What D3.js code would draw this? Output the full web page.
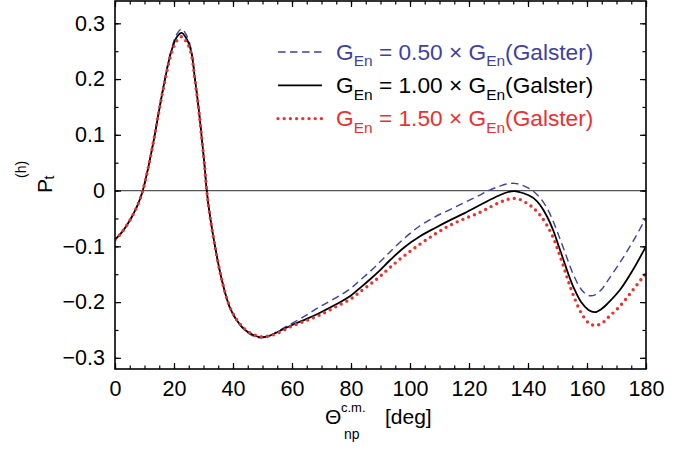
<!DOCTYPE html>
<html>
<head>
<meta charset="utf-8">
<script src="https://cdn.jsdelivr.net/npm/d3@7"></script>
<style>
  html, body { margin: 0; padding: 0; background: #fff; }
  svg { display: block; }
  text { font-family: "Liberation Sans", Arial, Helvetica, sans-serif; }
</style>
</head>
<body>
<svg id="chart" width="695" height="455"></svg>
<script>
// ---- data ----
const theta = [0, 2.3, 5.4, 7.5, 9.3, 11.3, 13.3, 15, 16.7, 19, 21, 22.6, 24.2, 25.8, 27.1, 28.3, 29.4, 30.3, 31.1,
  32.2, 33.9, 36.2, 38.8, 41.2, 44.1, 46.9, 49.2, 52, 55,
  60, 65, 69.5, 75, 80, 83, 86.5, 89.8, 93.2, 98, 103.4, 108.5, 113.6, 118.7, 123.7, 127,
  130.5, 133, 135.3, 137.3, 140, 142, 144.1, 146.5, 148.6, 150.3, 152, 153.7, 155.4, 158, 160.5, 162.7, 165, 167.1, 171.2, 175.6, 180];

const gen050 = [-0.088, -0.075, -0.050, -0.028, -0.002, 0.042, 0.095, 0.145, 0.195, 0.251, 0.281, 0.290, 0.279, 0.254, 0.202, 0.151, 0.096, 0.048, 0,
  -0.046, -0.100, -0.160, -0.208, -0.233, -0.251, -0.261, -0.264, -0.261, -0.253,
  -0.238, -0.223, -0.208, -0.192, -0.175, -0.161, -0.145, -0.128, -0.110, -0.086, -0.063, -0.047, -0.034, -0.021, -0.008, 0.001,
  0.008, 0.012, 0.013, 0.011, 0.005, -0.002, -0.013, -0.032, -0.056, -0.079, -0.103, -0.128, -0.151, -0.177, -0.188, -0.187, -0.177, -0.161, -0.129, -0.091, -0.049];

const gen100 = [-0.088, -0.075, -0.050, -0.028, -0.002, 0.042, 0.095, 0.145, 0.193, 0.248, 0.276, 0.283, 0.273, 0.25, 0.2, 0.15, 0.095, 0.048, 0,
  -0.046, -0.100, -0.160, -0.208, -0.232, -0.250, -0.259, -0.263, -0.261, -0.254,
  -0.241, -0.230, -0.219, -0.204, -0.188, -0.175, -0.159, -0.143, -0.125, -0.102, -0.082, -0.067, -0.053, -0.040, -0.026, -0.017,
  -0.008, -0.003, -0.001, -0.003, -0.008, -0.014, -0.026, -0.047, -0.072, -0.098, -0.124, -0.150, -0.173, -0.200, -0.214, -0.218, -0.212, -0.202, -0.178, -0.142, -0.100];

const gen150 = [-0.088, -0.075, -0.050, -0.028, -0.002, 0.042, 0.095, 0.145, 0.191, 0.244, 0.269, 0.276, 0.267, 0.246, 0.198, 0.149, 0.094, 0.048, 0,
  -0.046, -0.100, -0.160, -0.207, -0.231, -0.249, -0.258, -0.262, -0.261, -0.256,
  -0.243, -0.233, -0.223, -0.208, -0.194, -0.182, -0.168, -0.154, -0.138, -0.117, -0.096, -0.078, -0.062, -0.050, -0.039, -0.030,
  -0.021, -0.016, -0.014, -0.016, -0.024, -0.032, -0.044, -0.063, -0.085, -0.109, -0.135, -0.163, -0.188, -0.219, -0.237, -0.242, -0.238, -0.228, -0.207, -0.178, -0.148];

const factors = ["0.50", "1.00", "1.50"];
const xTicks = [0, 20, 40, 60, 80, 100, 120, 140, 160, 180];
const yTicks = [-0.3, -0.2, -0.1, 0, 0.1, 0.2, 0.3];
const xDomain = [0, 180];
const yDomain = [-0.32, 0.34];

// ---- layout ----
const svg = d3.select("#chart");
const L = 115, R = 646, T = 1, B = 369;
const x = d3.scaleLinear().domain(xDomain).range([L, R]);
const y = d3.scaleLinear().domain(yDomain).range([B, T]);

const styles = [
  { values: gen050, color: "#3f3fa3", width: 1.4, dash: "7.5,4.5", cap: "butt" },
  { values: gen100, color: "#000000", width: 1.8, dash: null, cap: "butt" },
  { values: gen150, color: "#ee2f2f", width: 3.4, dash: "0,6.2", cap: "round" }
];

// zero line
svg.append("line")
  .attr("x1", x(0)).attr("x2", x(180))
  .attr("y1", y(0)).attr("y2", y(0))
  .attr("stroke", "#555").attr("stroke-width", 1.3);

// curves
const line = d3.line()
  .x((d, i) => x(theta[i]))
  .y(d => y(d))
  .curve(d3.curveCatmullRom.alpha(0.5));

const plot = svg.append("g");
plot.append("defs").append("clipPath").attr("id", "clip")
  .append("rect").attr("x", L).attr("y", T).attr("width", R - L).attr("height", B - T);

styles.forEach(s => {
  plot.append("path")
    .attr("d", line(s.values))
    .attr("fill", "none")
    .attr("stroke", s.color)
    .attr("stroke-width", s.width)
    .attr("stroke-dasharray", s.dash)
    .attr("stroke-linecap", s.cap)
    .attr("stroke-linejoin", "round")
    .attr("clip-path", "url(#clip)");
});

// axes (ticks inward)
const xMinor = d3.range(0, 181, 5);
const yMinor = d3.range(-0.3, 0.3001, 0.05);

const axB = d3.axisBottom(x).tickValues(xTicks).tickSize(-6).tickPadding(12).tickFormat(d3.format("d"));
const axT = d3.axisTop(x).tickValues(xTicks).tickSize(-6).tickFormat("");
const axL = d3.axisLeft(y).tickValues(yTicks).tickSize(-6).tickPadding(10)
  .tickFormat(d => d === 0 ? "0" : d3.format(".1f")(d));
const axR = d3.axisRight(y).tickValues(yTicks).tickSize(-6).tickFormat("");

const axBm = d3.axisBottom(x).tickValues(xMinor).tickSize(-3.5).tickFormat("");
const axTm = d3.axisTop(x).tickValues(xMinor).tickSize(-3.5).tickFormat("");
const axLm = d3.axisLeft(y).tickValues(yMinor).tickSize(-3.5).tickFormat("");
const axRm = d3.axisRight(y).tickValues(yMinor).tickSize(-3.5).tickFormat("");

function styleAxis(g) {
  g.select(".domain").remove();
  g.selectAll(".tick line").attr("stroke", "#000").attr("stroke-width", 1.2);
  g.selectAll(".tick text").attr("fill", "#000")
    .style("font-family", "'Liberation Sans', Arial, sans-serif")
    .style("font-size", "21.5px");
}

svg.append("g").attr("transform", `translate(0,${B})`).call(axBm).call(styleAxis);
svg.append("g").attr("transform", `translate(0,${T})`).call(axTm).call(styleAxis);
svg.append("g").attr("transform", `translate(${L},0)`).call(axLm).call(styleAxis);
svg.append("g").attr("transform", `translate(${R},0)`).call(axRm).call(styleAxis);
svg.append("g").attr("transform", `translate(0,${B})`).call(axB).call(styleAxis);
svg.append("g").attr("transform", `translate(0,${T})`).call(axT).call(styleAxis);
svg.append("g").attr("transform", `translate(${L},0)`).call(axL).call(styleAxis);
svg.append("g").attr("transform", `translate(${R},0)`).call(axR).call(styleAxis);

// frame
svg.append("rect")
  .attr("x", L).attr("y", T).attr("width", R - L).attr("height", B - T)
  .attr("fill", "none").attr("stroke", "#000").attr("stroke-width", 1.6);

// legend
const legX1 = 278, legX2 = 322, legTx = 336;
const legY = [52, 85.3, 118.6];
styles.forEach((s, i) => {
  svg.append("line")
    .attr("x1", legX1).attr("x2", legX2)
    .attr("y1", legY[i]).attr("y2", legY[i])
    .attr("stroke", s.color)
    .attr("stroke-width", s.width)
    .attr("stroke-dasharray", s.dash)
    .attr("stroke-linecap", s.cap);
  const t = svg.append("text")
    .attr("x", legTx).attr("y", legY[i] + 7.8)
    .attr("fill", s.color)
    .style("font-size", "22.7px");
  t.append("tspan").text("G");
  t.append("tspan").attr("dy", 6.5).style("font-size", "15.5px").text("En");
  t.append("tspan").attr("dy", -6.5).text(` = ${factors[i]} \u00D7 G`);
  t.append("tspan").attr("dy", 6.5).style("font-size", "15.5px").text("En");
  t.append("tspan").attr("dy", -6.5).text("(Galster)");
});

// y-axis label  P_t^(h)
const yl = svg.append("g").attr("transform", "translate(52,193) rotate(-90)");
yl.append("text").attr("x", 0).attr("y", 0).style("font-size", "21px").attr("fill", "#000").text("P");
yl.append("text").attr("x", 13.5).attr("y", 1.5).style("font-size", "14px").attr("fill", "#000").text("t");
yl.append("text").attr("x", 15).attr("y", -26).style("font-size", "14px").attr("fill", "#000").text("(h)");

// x-axis label  Θ_np^c.m. [deg]
svg.append("text").attr("x", 325).attr("y", 424).style("font-size", "21px").attr("fill", "#000").text("\u0398");
svg.append("text").attr("x", 341).attr("y", 412).style("font-size", "13px").attr("fill", "#000").text("c.m.");
svg.append("text").attr("x", 344).attr("y", 439).style("font-size", "14px").attr("fill", "#000").text("np");
svg.append("text").attr("x", 385).attr("y", 424).style("font-size", "21px").attr("fill", "#000").text("[deg]");
</script>
</body>
</html>
